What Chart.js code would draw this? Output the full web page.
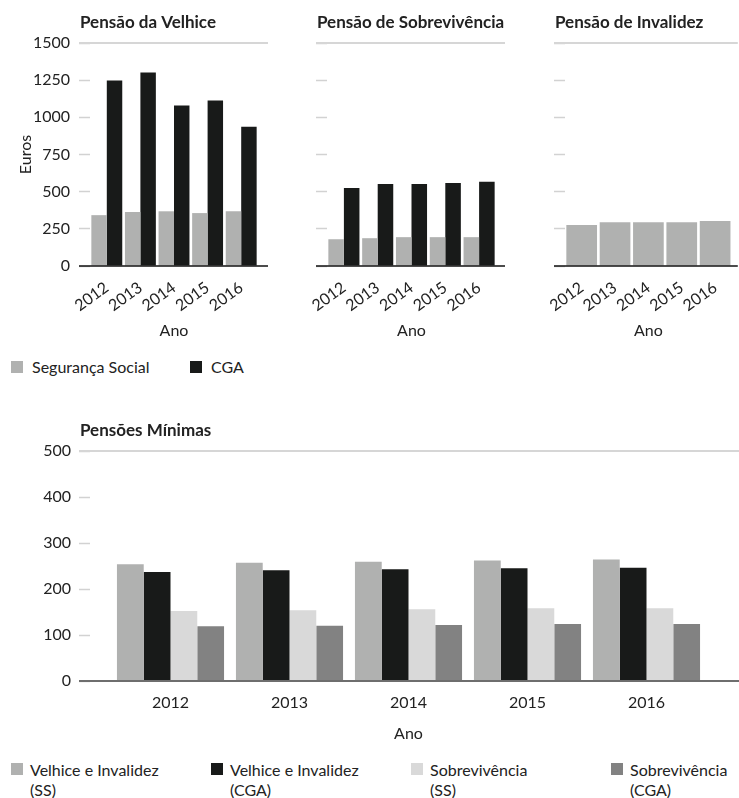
<!DOCTYPE html>
<html lang="pt">
<head>
<meta charset="utf-8">
<script src="https://cdn.jsdelivr.net/npm/chart.js@4.4.1/dist/chart.umd.min.js"></script>
<style>
  body { margin: 0; background: #fff; font-family: Lato, sans-serif; color: #222; }
  #pagina { position: relative; width: 739px; height: 798px; }
  canvas { position: absolute; }
  .legenda { position: absolute; font-size: 16px; }
  .item { position: absolute; top: 0; line-height: 20px; white-space: nowrap; }
  .item .cor { position: absolute; left: 0; width: 12px; height: 12px; }
</style>
</head>
<body>
<div id="pagina">
  <canvas id="velhice" width="270" height="345" style="left:0;top:0"></canvas>
  <canvas id="sobrevivencia" width="240" height="345" style="left:270px;top:0"></canvas>
  <canvas id="invalidez" width="229" height="345" style="left:510px;top:0"></canvas>
  <div class="legenda" id="legendaTopo" style="left:11px;top:357px"></div>
  <canvas id="minimas" width="739" height="345" style="left:0;top:400px"></canvas>
  <div class="legenda" id="legendaBaixo" style="left:11px;top:760px"></div>
</div>
<script>
const anos = ['2012', '2013', '2014', '2015', '2016'];

// pensões médias (euros)
const velhiceSS = [342, 363, 368, 356, 368];
const velhiceCGA = [1248, 1302, 1079, 1113, 937];
const sobrevSS = [180, 187, 194, 194, 194];
const sobrevCGA = [525, 552, 552, 559, 566];
const invalidezSS = [275, 295, 295, 295, 302];

// pensões mínimas
const minVelhiceSS = [254, 257, 259, 262, 264];
const minVelhiceCGA = [237, 241, 243, 245, 246];
const minSobrevSS = [152, 154, 156, 158, 158];
const minSobrevCGA = [119, 120, 122, 124, 124];

const eixoTopo = { max: 1500, passo: 250 };
const eixoBaixo = { max: 500, passo: 100 };

const cinza = '#b0b1b0';
const preto = '#181a19';
const cinzaClaro = '#d9d9d9';
const cinzaEscuro = '#828282';

Chart.defaults.font.family = 'Lato';
Chart.defaults.font.size = 16;
Chart.defaults.color = '#222';

// linha de topo, linha de base e titulo de cada grafico
const moldura = {
  id: 'moldura',
  afterDraw(chart, args, o) {
    const { ctx, chartArea: a, scales: { y } } = chart;
    const x0 = a.left - o.extL;
    const x1 = a.right + o.extR;
    const yTopo = y.getPixelForValue(y.max);
    const yBase = y.getPixelForValue(0);
    ctx.save();
    ctx.lineWidth = 2;
    ctx.strokeStyle = '#d6d6d6';
    ctx.beginPath();
    ctx.moveTo(x0, yTopo);
    ctx.lineTo(x1, yTopo);
    ctx.stroke();
    ctx.lineWidth = o.baseLargura;
    ctx.strokeStyle = o.baseCor;
    ctx.beginPath();
    ctx.moveTo(x0, yBase);
    ctx.lineTo(x1, yBase);
    ctx.stroke();
    ctx.font = 'bold 17px Lato';
    ctx.fillStyle = '#222';
    ctx.textBaseline = 'middle';
    ctx.fillText(o.titulo, x0 + 1, yTopo - 20);
    ctx.restore();
  }
};

function barras(id, datasets, c) {
  return new Chart(document.getElementById(id), {
    type: 'bar',
    data: { labels: anos, datasets: datasets },
    options: {
      responsive: false,
      animation: false,
      layout: { padding: { top: c.topo, right: c.direita, left: 0, bottom: 0 } },
      datasets: { bar: { categoryPercentage: c.cat, barPercentage: 1 } },
      plugins: {
        legend: { display: false },
        tooltip: { enabled: false },
        moldura: { titulo: c.titulo, extL: c.extL, extR: c.extR, baseCor: c.baseCor, baseLargura: c.baseLargura }
      },
      scales: {
        x: {
          grid: { display: false, drawTicks: false },
          border: { display: false },
          ticks: { autoSkip: false, minRotation: c.rot, maxRotation: c.rot, padding: c.xPad },
          title: { display: true, text: 'Ano', padding: { top: 0, bottom: c.anoPad } },
          afterFit: s => { s.height = c.xAltura; }
        },
        y: {
          min: 0,
          max: c.eixo.max,
          ticks: { stepSize: c.eixo.passo, display: c.rotulos, padding: c.yPad, callback: v => String(v) },
          grid: {
            drawOnChartArea: false,
            tickLength: c.tick,
            tickColor: '#d2d2d2',
            tickWidth: 1.5,
            tickBorderDash: c.traco
          },
          border: { display: false },
          title: { display: !!c.yTitulo, text: c.yTitulo, padding: { top: 16, bottom: 0 } },
          afterFit: s => { s.width = c.yLargura; }
        }
      }
    },
    plugins: [moldura]
  });
}

const topo = {
  eixo: eixoTopo, topo: 43, cat: 0.92, rot: 36, xPad: 12, anoPad: 5, xAltura: 79,
  tick: 11, traco: [], yPad: 9, extL: 11, baseCor: '#111', baseLargura: 1.5
};

barras('velhice', [
  { label: 'Segurança Social', data: velhiceSS, backgroundColor: cinza },
  { label: 'CGA', data: velhiceCGA, backgroundColor: preto }
], Object.assign({}, topo, { titulo: 'Pensão da Velhice', direita: 12, extR: 10, yLargura: 90, rotulos: true, yTitulo: 'Euros' }));

barras('sobrevivencia', [
  { label: 'Segurança Social', data: sobrevSS, backgroundColor: cinza },
  { label: 'CGA', data: sobrevCGA, backgroundColor: preto }
], Object.assign({}, topo, { titulo: 'Pensão de Sobrevivência', direita: 14, extR: 9, yLargura: 57, rotulos: false }));

barras('invalidez', [
  { label: 'Segurança Social', data: invalidezSS, backgroundColor: cinza }
], Object.assign({}, topo, { titulo: 'Pensão de Invalidez', direita: 6, extR: 6, yLargura: 55, rotulos: false }));

const minimas = barras('minimas', [
  { label: 'Velhice e Invalidez (SS)', data: minVelhiceSS, backgroundColor: cinza },
  { label: 'Velhice e Invalidez (CGA)', data: minVelhiceCGA, backgroundColor: preto },
  { label: 'Sobrevivência (SS)', data: minSobrevSS, backgroundColor: cinzaClaro },
  { label: 'Sobrevivência (CGA)', data: minSobrevCGA, backgroundColor: cinzaEscuro }
], {
  eixo: eixoBaixo, topo: 51, cat: 0.9, rot: 0, xPad: 12, anoPad: 2, xAltura: 64,
  tick: 32, traco: [11, 21], yPad: 8, extL: 32, extR: 33, direita: 33, yLargura: 111,
  rotulos: true, titulo: 'Pensões Mínimas', baseCor: '#6e6e6e', baseLargura: 2
});

// legendas em html
function legenda(id, itens, passo, recuo, caixaTopo) {
  const el = document.getElementById(id);
  itens.forEach((it, i) => {
    const d = document.createElement('div');
    d.className = 'item';
    d.style.left = (i * passo) + 'px';
    d.style.paddingLeft = recuo + 'px';
    d.innerHTML = `<span class="cor" style="background:${it.cor};top:${caixaTopo}px"></span>${it.texto.replace(' (', '<br>(')}`;
    el.appendChild(d);
  });
}

legenda('legendaTopo', [
  { texto: 'Segurança Social', cor: cinza },
  { texto: 'CGA', cor: preto }
], 179, 21, 4);

legenda('legendaBaixo', minimas.data.datasets.map(d => ({ texto: d.label, cor: d.backgroundColor })), 200, 19, 3);
</script>
</body>
</html>
